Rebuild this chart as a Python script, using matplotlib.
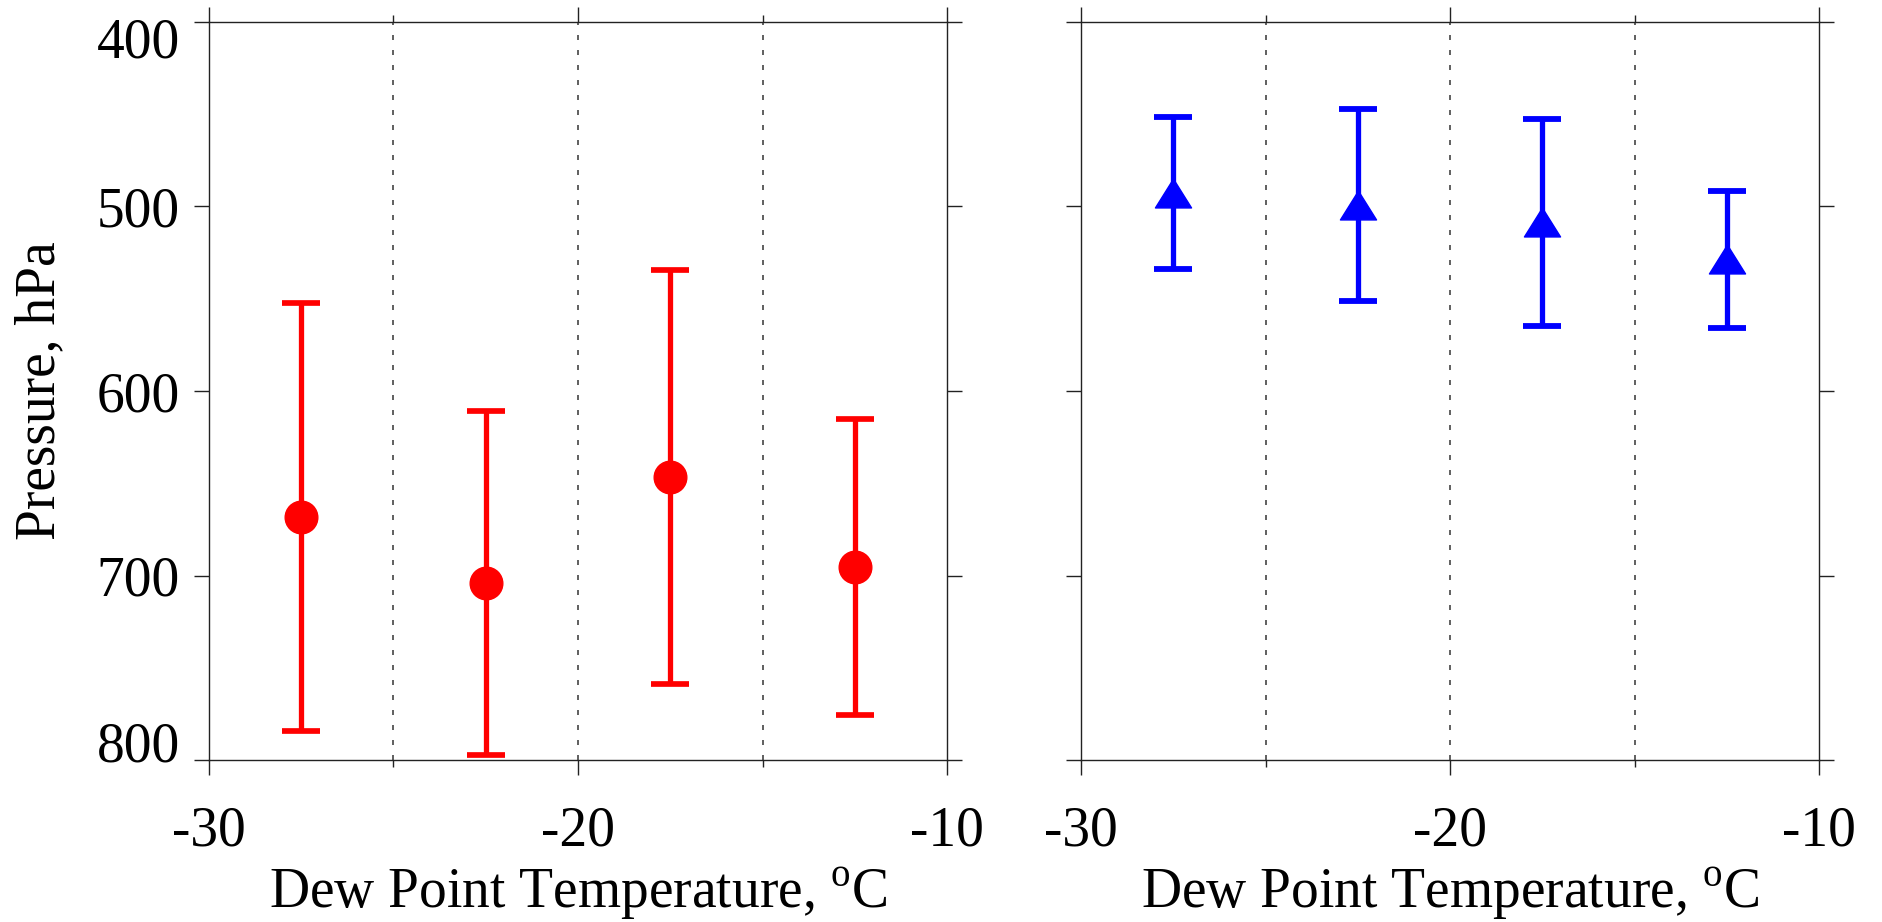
import matplotlib
matplotlib.use("Agg")
import matplotlib.pyplot as plt
from matplotlib.ticker import FixedLocator, MultipleLocator
from matplotlib.transforms import ScaledTranslation

# ---- data ----
temp_bins = [-27.5, -22.5, -17.5, -12.5]
p_left = [668.4, 704.1, 646.5, 695.2]
err_left = [116, 93, 112, 80]
p_right = [492.8, 499.5, 508.6, 528.7]
err_right = [41, 52, 56, 37]
x_ticks = [-30, -20, -10]
grid_x = [-25, -20, -15]
y_ticks = [400, 500, 600, 700, 800]
x_label = r"Dew Point Temperature, $^{\mathrm{o}}$C"
y_label = "Pressure, hPa"

plt.rcParams["font.family"] = ["Liberation Serif", "DejaVu Serif"]
plt.rcParams["mathtext.fontset"] = "custom"
plt.rcParams["mathtext.rm"] = "Liberation Serif"
plt.rcParams["axes.unicode_minus"] = False

FS = 40
fig = plt.figure(figsize=(18.83, 9.22), dpi=100)
W, H = 1883, 922


def frac(x0, x1, ytop, ybot):
    return [x0 / W, (H - ybot) / H, (x1 - x0) / W, (ybot - ytop) / H]


ax1 = fig.add_axes(frac(208.7, 947.2, 21.7, 760.3))
ax2 = fig.add_axes(frac(1081.0, 1819.3, 21.7, 760.3))

tri = [(0, 0.8), (-1, -0.8), (1, -0.8), (0, 0.8)]

ax1.errorbar(temp_bins, p_left, yerr=err_left, fmt="o", color="#ff0000",
             ms=23.5, elinewidth=3.8, capsize=13.5, capthick=4.1, zorder=3)
ax2.errorbar(temp_bins, p_right, yerr=err_right, fmt="none", ecolor="#0000ff",
             elinewidth=3.8, capsize=13.7, capthick=4.2, zorder=3)
ax2.plot(temp_bins, p_right, linestyle="none", marker=tri, color="#0000ff",
         ms=26, zorder=4)

for i, ax in enumerate([ax1, ax2]):
    ax.set_xlim(-30, -10)
    ax.set_ylim(800, 400)
    ax.xaxis.set_major_locator(FixedLocator(x_ticks))
    ax.xaxis.set_minor_locator(MultipleLocator(5))
    ax.yaxis.set_major_locator(FixedLocator(y_ticks))
    ax.yaxis.set_minor_locator(FixedLocator([]))
    for gx in grid_x:
        ax.axvline(gx, color="#444444", linewidth=1.2, linestyle=(0, (3, 6)),
                   zorder=1)
    for sp in ax.spines.values():
        sp.set_linewidth(1.0)
        sp.set_color("#222222")
    ax.tick_params(which="both", direction="out", top=True, right=True,
                   width=1.0, color="#222222", labelsize=FS)
    ax.tick_params(which="major", length=10.8)
    ax.tick_params(which="minor", length=5.2)
    ax.tick_params(axis="x", pad=22)
    ax.tick_params(axis="y", pad=10)
    ax.set_xlabel(x_label, fontsize=FS, labelpad=6)

ax2.tick_params(axis="y", labelleft=False)
ax1.set_ylabel(y_label, fontsize=FS, labelpad=22)

# nudge end labels inward like the reference
fig.canvas.draw()
ticks = ax1.yaxis.get_major_ticks()
ticks[0].label1.set_transform(ticks[0].label1.get_transform()
                              + ScaledTranslation(0, -16 / 100, fig.dpi_scale_trans))
ticks[-1].label1.set_transform(ticks[-1].label1.get_transform()
                               + ScaledTranslation(0, 19 / 100, fig.dpi_scale_trans))

fig.savefig("out.png", dpi=100)
